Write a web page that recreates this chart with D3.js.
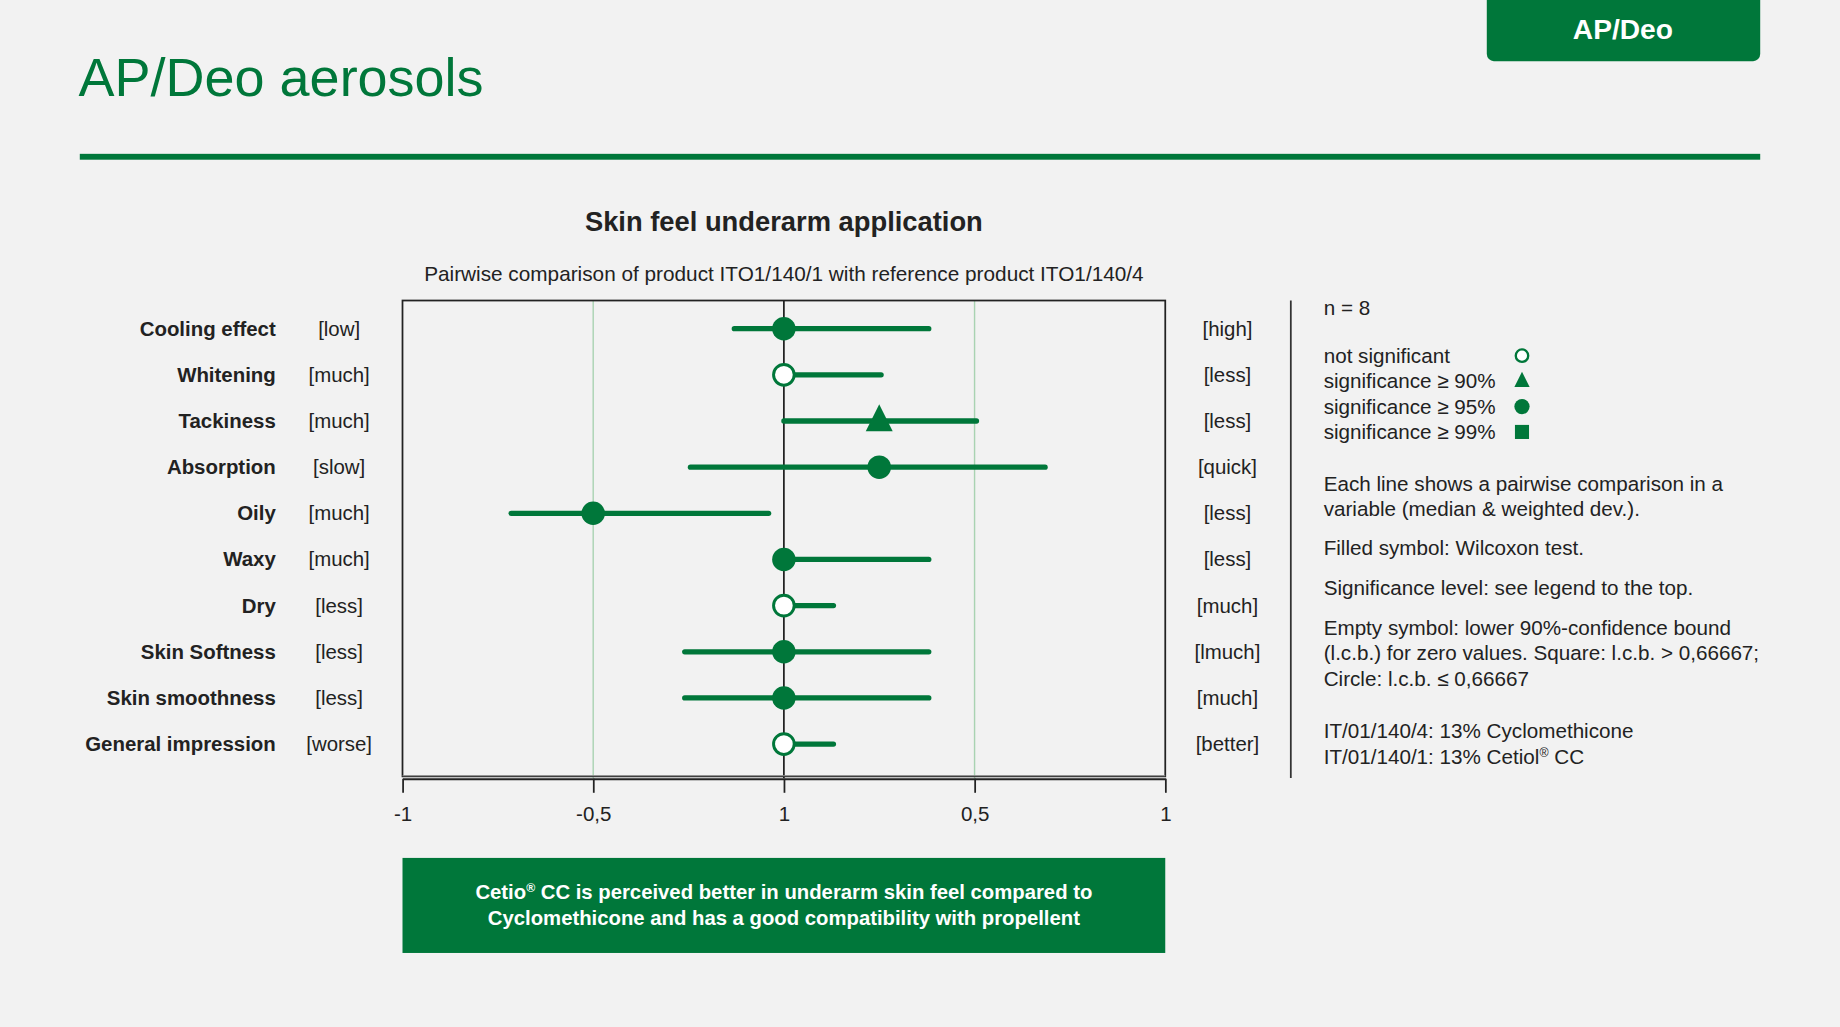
<!DOCTYPE html>
<html>
<head>
<meta charset="utf-8">
<script src="https://cdn.jsdelivr.net/npm/d3@7"></script>
<style>
  body { margin: 0; background: #f2f2f2; }
  svg { display: block; font-family: "Liberation Sans", Arial, sans-serif; }
</style>
</head>
<body>
<svg></svg>
<script>
// chart data
var variables = ["Cooling effect", "Whitening", "Tackiness", "Absorption", "Oily",
                 "Waxy", "Dry", "Skin Softness", "Skin smoothness", "General impression"];
var leftAnchors = ["[low]", "[much]", "[much]", "[slow]", "[much]", "[much]", "[less]", "[less]", "[less]", "[worse]"];
var rightAnchors = ["[high]", "[less]", "[less]", "[quick]", "[less]", "[less]", "[much]", "[lmuch]", "[much]", "[better]"];
var medians = [0, 0, 0.25, 0.25, -0.5, 0, 0, 0, 0, 0];
var lowers = [-0.13, 0, 0, -0.245, -0.715, 0, 0, -0.26, -0.26, 0];
var uppers = [0.38, 0.255, 0.505, 0.685, -0.04, 0.38, 0.13, 0.38, 0.38, 0.13];
var symbols = ["circle", "open", "triangle", "circle", "circle", "circle", "open", "circle", "circle", "open"];
var tickValues = [-1, -0.5, 0, 0.5, 1];
var tickLabels = ["-1", "-0,5", "1", "0,5", "1"];

var legendItems = ["not significant", "significance \u2265 90%", "significance \u2265 95%", "significance \u2265 99%"];
var legendSymbols = ["open", "triangle", "circle", "square"];
var notes = [
  ["Each line shows a pairwise comparison in a", "variable (median & weighted dev.)."],
  ["Filled symbol: Wilcoxon test."],
  ["Significance level: see legend to the top."],
  ["Empty symbol: lower 90%-confidence bound", "(l.c.b.) for zero values. Square: l.c.b. > 0,66667;", "Circle: l.c.b. \u2264 0,66667"],
  ["IT/01/140/4: 13% Cyclomethicone", "IT/01/140/1: 13% Cetiol|\u00ae| CC"]
];
var conclusion = ["Cetio|\u00ae| CC is perceived better in underarm skin feel compared to",
                  "Cyclomethicone and has a good compatibility with propellent"];

var green = "#00773a";
var ink = "#222";

var svg = d3.select("svg")
  .attr("width", 1840)
  .attr("height", 1027)
  .attr("viewBox", "0 0 1568 875");

// text with a raised small ® between | marks
var richText = function(el, str)
{
  str.split("|").forEach(function(part, k){
    var t = el.append("tspan").text(part);
    if (k % 2 == 1) t.style("font-size", "0.6em").attr("dy", "-0.55em");
    else if (k > 0) t.attr("dy", "0.33em");
  });
}

// header
svg.append("rect").attr("x", 1267).attr("y", -10).attr("width", 233).attr("height", 62)
  .attr("rx", 6).style("fill", green);
svg.append("text").attr("x", 1383).attr("y", 33).attr("text-anchor", "middle")
  .style("font-size", "24px").style("font-weight", "bold").style("fill", "#fff").text("AP/Deo");
svg.append("text").attr("x", 67).attr("y", 82)
  .style("font-size", "46px").style("fill", green).text("AP/Deo aerosols");
svg.append("rect").attr("x", 68).attr("y", 131).attr("width", 1432).attr("height", 5).style("fill", green);

svg.append("text").attr("x", 668).attr("y", 197).attr("text-anchor", "middle")
  .style("font-size", "23.3px").style("font-weight", "bold").style("fill", ink)
  .text("Skin feel underarm application");
svg.append("text").attr("x", 668).attr("y", 239).attr("text-anchor", "middle")
  .style("font-size", "17.7px").style("fill", ink)
  .text("Pairwise comparison of product ITO1/140/1 with reference product ITO1/140/4");

// scales
var plot = {left: 343, right: 993, top: 256, bottom: 663};
var xScale = d3.scaleLinear().domain([-1, 1]).range([plot.left, plot.right]);
var yScale = d3.scalePoint().domain(variables).range([280, 634]);

// guide lines
svg.append("g").selectAll("line")
  .data([-0.5, 0.5]).enter().append("line")
  .attr("x1", function(d){ return xScale(d); }).attr("x2", function(d){ return xScale(d); })
  .attr("y1", plot.top).attr("y2", plot.bottom)
  .style("stroke", "#a9d3b2").style("stroke-width", 1.2);
svg.append("line")
  .attr("x1", xScale(0)).attr("x2", xScale(0)).attr("y1", plot.top).attr("y2", plot.bottom)
  .style("stroke", ink).style("stroke-width", 1.5);

svg.append("rect")
  .attr("x", plot.left).attr("y", plot.top)
  .attr("width", plot.right - plot.left).attr("height", plot.bottom - plot.top - 1.5)
  .style("fill", "none").style("stroke", ink).style("stroke-width", 1.5);
svg.append("line").attr("x1", plot.left).attr("x2", plot.right)
  .attr("y1", plot.bottom - 2).attr("y2", plot.bottom - 2)
  .style("stroke", "#999").style("stroke-width", 1);

var xAxis = d3.axisBottom(xScale)
  .tickValues(tickValues)
  .tickFormat(function(d, i){ return tickLabels[i]; })
  .tickSize(12)
  .tickPadding(12)
  .tickSizeOuter(0);
var axisG = svg.append("g").attr("transform", "translate(0," + (plot.bottom + 0.5) + ")").call(xAxis);
axisG.select(".domain").style("stroke", ink).style("stroke-width", 1.8);
axisG.selectAll(".tick line").style("stroke", ink).style("stroke-width", 1.5);
axisG.selectAll(".tick text").style("font-size", "17.5px").style("fill", ink)
  .style("font-family", "'Liberation Sans', Arial, sans-serif");

// row labels
var rows = svg.append("g");
rows.selectAll(".var").data(variables).enter().append("text")
  .attr("x", 235).attr("y", function(d){ return yScale(d) + 6; })
  .attr("text-anchor", "end")
  .style("font-size", "17.4px").style("font-weight", "bold").style("fill", ink)
  .text(function(d){ return d; });
rows.selectAll(".la").data(leftAnchors).enter().append("text")
  .attr("x", 289).attr("y", function(d, i){ return yScale(variables[i]) + 6; })
  .attr("text-anchor", "middle").style("font-size", "17.4px").style("fill", ink)
  .text(function(d){ return d; });
rows.selectAll(".ra").data(rightAnchors).enter().append("text")
  .attr("x", 1046).attr("y", function(d, i){ return yScale(variables[i]) + 6; })
  .attr("text-anchor", "middle").style("font-size", "17.4px").style("fill", ink)
  .text(function(d){ return d; });

// error bars
svg.append("g").selectAll("line")
  .data(variables).enter().append("line")
  .attr("x1", function(d, i){ return xScale(lowers[i]); })
  .attr("x2", function(d, i){ return xScale(uppers[i]); })
  .attr("y1", function(d){ return yScale(d); })
  .attr("y2", function(d){ return yScale(d); })
  .style("stroke", green).style("stroke-width", 4.5).style("stroke-linecap", "round");

var drawSymbol = function(g, type, x, y, big)
{
  var r = big ? 10 : 6.5;
  if (type == "circle") {
    g.append("circle").attr("cx", x).attr("cy", y).attr("r", r).style("fill", green);
  } else if (type == "open") {
    g.append("circle").attr("cx", x).attr("cy", y).attr("r", r - 1.2)
      .style("fill", "#fff").style("stroke", green).style("stroke-width", big ? 2.5 : 2);
  } else if (type == "triangle") {
    var s = big ? 23 : 13;
    g.append("path")
      .attr("d", "M" + x + "," + (y - s * 0.62) + "L" + (x + s / 2) + "," + (y + s * 0.38) +
                 "L" + (x - s / 2) + "," + (y + s * 0.38) + "Z")
      .style("fill", green);
  } else {
    g.append("rect").attr("x", x - 6).attr("y", y - 6).attr("width", 12).attr("height", 12)
      .style("fill", green);
  }
}

var marks = svg.append("g");
variables.forEach(function(v, i){
  drawSymbol(marks, symbols[i], xScale(medians[i]), yScale(v), true);
});

// legend
svg.append("line").attr("x1", 1100).attr("x2", 1100).attr("y1", 256).attr("y2", 663)
  .style("stroke", "#333").style("stroke-width", 1.5);
var legend = svg.append("g").style("font-size", "17.6px").style("fill", ink);
legend.append("text").attr("x", 1128).attr("y", 268).text("n = 8");
var legendY = d3.scalePoint().domain(legendItems).range([303, 368]);
legend.selectAll(".li").data(legendItems).enter().append("text")
  .attr("x", 1128).attr("y", function(d){ return legendY(d) + 6; })
  .text(function(d){ return d; });
legendItems.forEach(function(d, i){
  drawSymbol(legend, legendSymbols[i], 1297, legendY(d), false);
});

var noteStarts = [412, 467, 501, 535, 623];
notes.forEach(function(lines, i){
  lines.forEach(function(line, j){
    var t = legend.append("text").attr("x", 1128).attr("y", noteStarts[i] + 6 + j * 21.7);
    richText(t, line);
  });
});

// conclusion box
svg.append("rect").attr("x", 343).attr("y", 731).attr("width", 650).attr("height", 81).style("fill", green);
conclusion.forEach(function(line, j){
  var t = svg.append("text").attr("x", 668).attr("y", 766 + j * 22).attr("text-anchor", "middle")
    .style("font-size", "17.3px").style("font-weight", "bold").style("fill", "#fff");
  richText(t, line);
});
</script>
</body>
</html>
